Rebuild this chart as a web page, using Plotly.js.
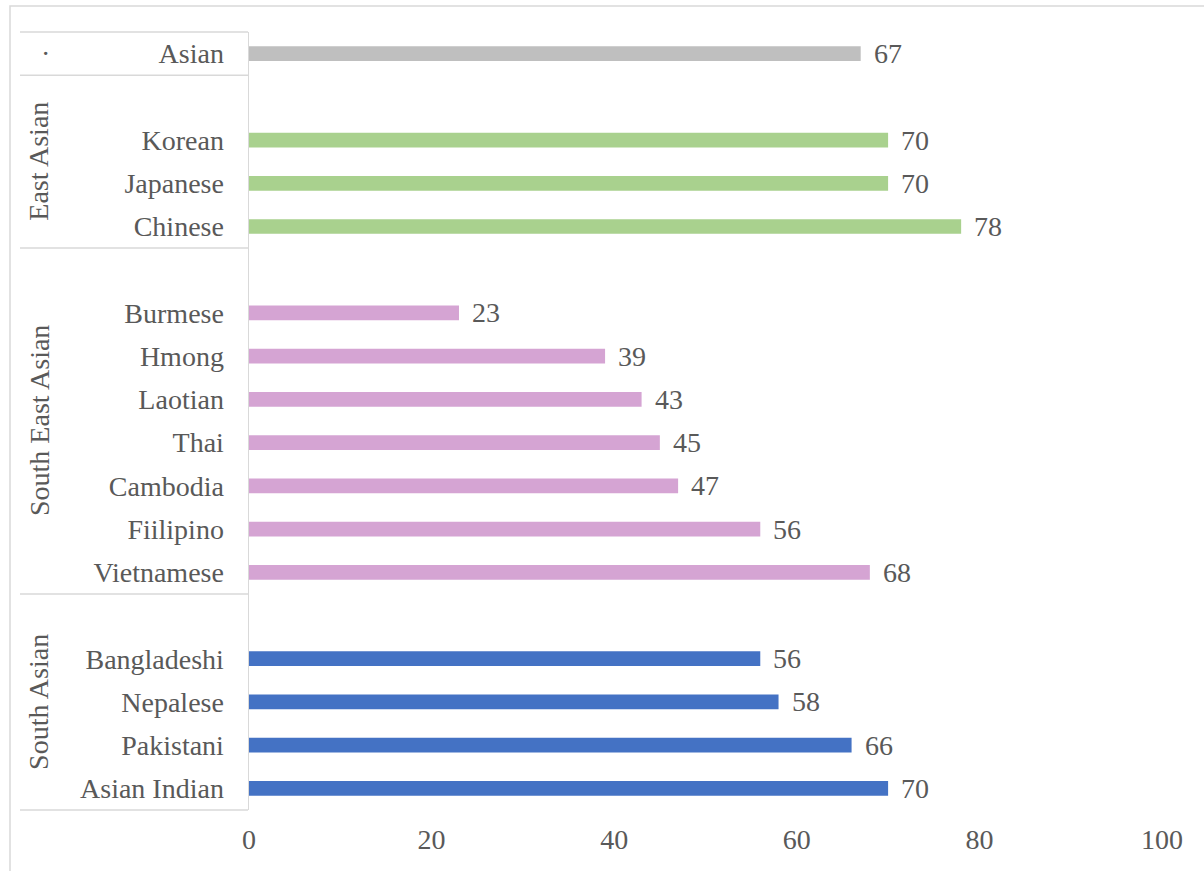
<!DOCTYPE html>
<html>
<head>
<meta charset="utf-8">
<script src="https://cdn.plot.ly/plotly-3.0.1.min.js"></script>
<style>html,body{margin:0;padding:0;background:#fff;}#chart{width:1204px;height:871px;}</style>
</head>
<body>
<div id="chart"></div>
<script>
// ---- data (bottom group first, categories bottom-up) ----
const groupNames = ['South Asian', 'South East Asian', 'East Asian', '·'];
const southAsianCats = ['Asian Indian', 'Pakistani', 'Nepalese', 'Bangladeshi'];
const southAsianVals = [70, 66, 58, 56];
const southEastAsianCats = ['Vietnamese', 'Fiilipino', 'Cambodia', 'Thai', 'Laotian', 'Hmong', 'Burmese'];
const southEastAsianVals = [68, 56, 47, 45, 43, 39, 23];
const eastAsianCats = ['Chinese', 'Japanese', 'Korean'];
const eastAsianVals = [78, 70, 70];
const allAsianCats = ['Asian'];
const allAsianVals = [67];
const xTicks = [0, 20, 40, 60, 80, 100];
const groupColors = ['#4472C4', '#D5A4D3', '#A9D18E', '#BFBFBF'];

const groupCats = [southAsianCats, southEastAsianCats, eastAsianCats, allAsianCats];
const groupVals = [southAsianVals, southEastAsianVals, eastAsianVals, allAsianVals];

// ---- layout geometry ----
const W = 1204, H = 871;
const mL = 249, mR = 42, mT = 32, mB = 61;
const plotW = W - mL - mR, plotH = H - mT - mB;
const pxToPaperX = px => (px - mL) / plotW;
const pxToPaperY = py => (H - mB - py) / plotH;

const font = 'Liberation Serif, Times New Roman, serif';
const fs = 28;
const txtColor = '#595959';
const lineColor = '#D9D9D9';

// rows: each group followed by one blank row (except last)
let row = 0;
const traces = [], tickvals = [], ticktext = [], annotations = [], boundaries = [-0.5];
const groupCenters = [];
groupCats.forEach((cats, g) => {
  const start = row;
  const ys = cats.map((c, i) => start + i);
  row += cats.length;
  if (g < groupCats.length - 1) row += 1; // blank slot
  const end = row - 1;
  boundaries.push(end + 0.5);
  groupCenters.push((start + end) / 2);
  cats.forEach((c, i) => { tickvals.push(ys[i]); ticktext.push(c); });
  traces.push({
    type: 'bar', orientation: 'h',
    x: groupVals[g], y: ys,
    width: 0.34,
    marker: { color: groupColors[g] },
    hoverinfo: 'x+text', text: cats, textposition: 'none',
    showlegend: false
  });
  groupVals[g].forEach((v, i) => {
    annotations.push({
      x: v, y: ys[i], xref: 'x', yref: 'y',
      text: String(v), showarrow: false,
      xanchor: 'left', yanchor: 'middle', xshift: 11,
      font: { family: font, size: fs, color: txtColor }
    });
  });
});
const nRows = row;
const yRange = [-0.5, nRows - 0.5];
const rowToPaper = r => (r - yRange[0]) / (yRange[1] - yRange[0]);

// group labels
groupNames.forEach((name, g) => {
  const isDot = name === '·';
  annotations.push({
    x: pxToPaperX(isDot ? 45 : 39), y: groupCenters[g], xref: 'paper', yref: 'y',
    text: name, showarrow: false, textangle: isDot ? 0 : -90,
    xanchor: 'center', yanchor: 'middle',
    font: { family: font, size: fs, color: txtColor }
  });
});

// separator lines in label area
const shapes = boundaries.map(b => ({
  type: 'line', xref: 'paper', yref: 'paper',
  x0: pxToPaperX(20), x1: pxToPaperX(248),
  y0: rowToPaper(b), y1: rowToPaper(b),
  line: { color: lineColor, width: 1.5 }
}));
// outer chart border
shapes.push({
  type: 'rect', xref: 'paper', yref: 'paper',
  x0: pxToPaperX(10), x1: pxToPaperX(1300),
  y0: pxToPaperY(950), y1: pxToPaperY(6),
  line: { color: lineColor, width: 1.5 }, fillcolor: 'rgba(0,0,0,0)'
});

const layout = {
  width: W, height: H,
  margin: { l: mL, r: mR, t: mT, b: mB, pad: 0 },
  paper_bgcolor: '#fff', plot_bgcolor: '#fff',
  barmode: 'overlay',
  xaxis: {
    range: [0, 100], tickvals: xTicks, ticktext: xTicks.map(String),
    showgrid: false, zeroline: false, showline: false, ticks: '',
    ticklabelstandoff: 10,
    tickfont: { family: font, size: fs, color: txtColor }
  },
  yaxis: {
    range: yRange, tickvals: tickvals, ticktext: ticktext,
    showgrid: false, zeroline: false, showline: true, linecolor: lineColor, linewidth: 1.5,
    ticks: '', ticklabelstandoff: 18,
    tickfont: { family: font, size: fs, color: txtColor }
  },
  annotations: annotations,
  shapes: shapes,
  font: { family: font, color: txtColor }
};

Plotly.newPlot('chart', traces, layout, { staticPlot: true, displayModeBar: false });
</script>
</body>
</html>
